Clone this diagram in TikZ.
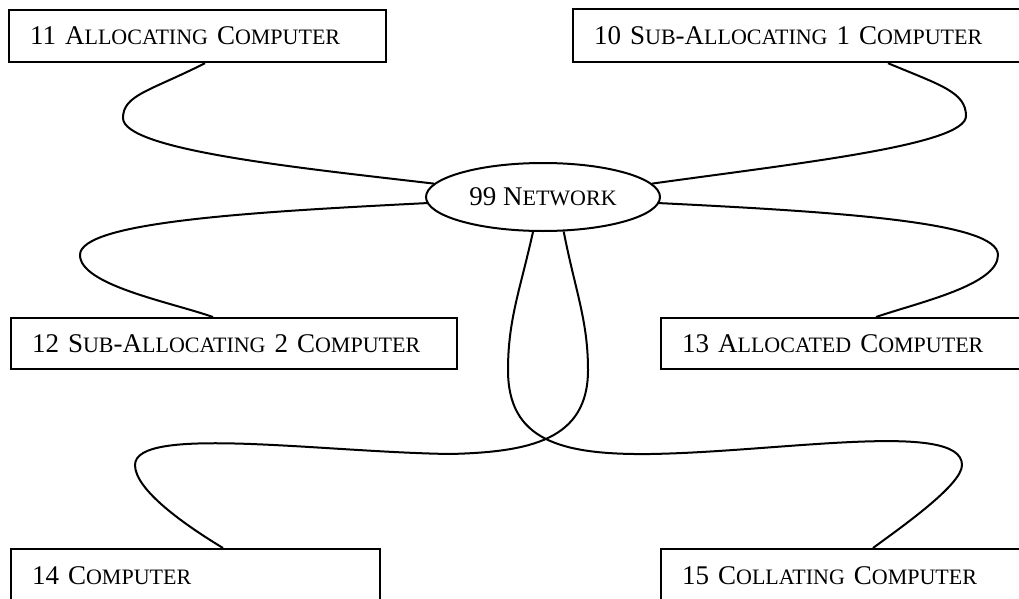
\documentclass[tikz,border=0pt]{standalone}
\usepackage{fontspec}
\setmainfont{Liberation Serif}
\usetikzlibrary{
  shapes.geometric,
  calc
  }
\newcommand{\smc}[1]{{\fontsize{22}{26}\selectfont #1}}

\begin{document}
\begin{tikzpicture}[x=1pt, y=-1pt]
  \tikzstyle{every node}=[font=\fontsize{27}{32}\selectfont]
  \tikzstyle{computer}=[draw, line width=2.2pt, rectangle, anchor=north west,
    inner xsep=21pt, inner ysep=0pt, align=left]
  \tikzstyle{link}=[line width=2pt]
  \clip (0,0) rectangle (1019,599);
  % boxes
  \node[computer, text width=335pt, minimum height=52pt] (b11) at (8,9)
    {11 A\smc{LLOCATING} C\smc{OMPUTER}};
  \node[computer, text width=428pt, minimum height=53pt] (b10) at (572,8)
    {10 S\smc{UB}-A\smc{LLOCATING} 1 C\smc{OMPUTER}};
  \node[computer, text width=404pt, minimum height=51pt] (b12) at (10,317)
    {12 S\smc{UB}-A\smc{LLOCATING} 2 C\smc{OMPUTER}};
  \node[computer, text width=338pt, minimum height=51pt] (b13) at (660,317)
    {13 A\smc{LLOCATED} C\smc{OMPUTER}};
  \node[computer, text width=327pt, minimum height=53pt] (b14) at (10,548)
    {14 C\smc{OMPUTER}};
  \node[computer, text width=338pt, minimum height=53pt] (b15) at (660,548)
    {15 C\smc{OLLATING} C\smc{OMPUTER}};
  %
  \node[ellipse, draw, line width=2pt, minimum width=234pt, minimum height=68pt,
    inner sep=0pt] (net) at (543,197) {99 N\smc{ETWORK}};
  % links
  \draw[link] ($(b11.south west)+(197,0)$) .. controls (150,91) and (123,95) .. (123,118)
    .. controls (123,150) and (300,168) .. (net.173);
  \draw[link] ($(b10.south west)+(316,0)$) .. controls (940,85) and (966,92) .. (966,116)
    .. controls (966,145) and (800,163) .. (net.7);
  \draw[link] (net.183) .. controls (250,212) and (80,222) .. (80,255)
    .. controls (80,285) and (170,302) .. ($(b12.north west)+(203,0)$);
  \draw[link] (net.357) .. controls (840,212) and (998,222) .. (998,255)
    .. controls (998,285) and (920,302) .. ($(b13.north west)+(216,0)$);
  \draw[link] (net.301) .. controls (575,290) and (588,320) .. (588,370)
    .. controls (588,440) and (530,452) .. (450,454)
    .. controls (320,452) and (135,425) .. (135,465)
    .. controls (135,490) and (185,525) .. ($(b14.north west)+(213,0)$);
  \draw[link] (net.254) .. controls (520,290) and (508,320) .. (508,370)
    .. controls (508,440) and (560,455) .. (650,454)
    .. controls (780,452) and (962,420) .. (962,465)
    .. controls (962,485) and (900,528) .. ($(b15.north west)+(213,0)$);
\end{tikzpicture}
\end{document}
